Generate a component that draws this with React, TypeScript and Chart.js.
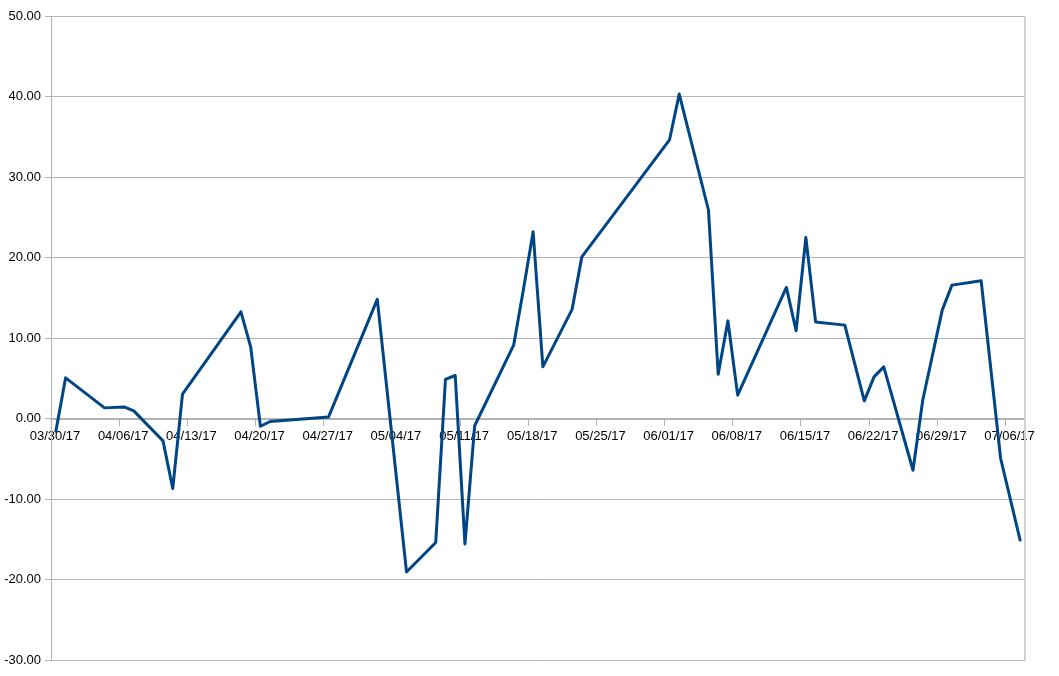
import React, { useRef, useEffect } from 'react';
import { Chart, registerables } from 'chart.js';

Chart.register(...registerables);

// trading days (from the x axis) and the plotted values
const dates = [
  '2017-03-30', '2017-03-31', '2017-04-04', '2017-04-06', '2017-04-07', '2017-04-10',
  '2017-04-11', '2017-04-12', '2017-04-18', '2017-04-19', '2017-04-20', '2017-04-21',
  '2017-04-27', '2017-05-02', '2017-05-05', '2017-05-08', '2017-05-09', '2017-05-10',
  '2017-05-11', '2017-05-12', '2017-05-16', '2017-05-17', '2017-05-18', '2017-05-19',
  '2017-05-22', '2017-05-23', '2017-06-01', '2017-06-02', '2017-06-05', '2017-06-06',
  '2017-06-07', '2017-06-08', '2017-06-13', '2017-06-14', '2017-06-15', '2017-06-16',
  '2017-06-19', '2017-06-21', '2017-06-22', '2017-06-23', '2017-06-26', '2017-06-27',
  '2017-06-29', '2017-06-30', '2017-07-03', '2017-07-05', '2017-07-07'
];
const values = [
  -1.6, 5.05, 1.32, 1.44, 0.95, -2.78,
  -8.7, 3.02, 13.25, 8.9, -0.96, -0.37,
  0.2, 14.8, -19.06, -15.4, 4.85, 5.34,
  -15.6, -0.9, 9.11, 16.0, 23.2, 6.42,
  13.55, 20.08, 34.6, 40.3, 25.9, 5.5,
  12.13, 2.9, 16.28, 10.9, 22.5, 12.0,
  11.6, 2.19, 5.17, 6.41, -6.43, 2.27,
  13.46, 16.57, 17.1, -4.97, -15.1
];

const START = '2017-03-30';
const END = '2017-07-08';
const DAY = 86400000;
const dayOf = (s: string) => (Date.parse(s) - Date.parse(START)) / DAY;

const fmtDate = (d: number) => {
  const t = new Date(Date.parse(START) + d * DAY);
  const mm = String(t.getUTCMonth() + 1).padStart(2, '0');
  const dd = String(t.getUTCDate()).padStart(2, '0');
  const yy = String(t.getUTCFullYear()).slice(2);
  return mm + '/' + dd + '/' + yy;
};

const font = { family: "'Liberation Sans', Arial, sans-serif", size: 13 };

const frame = {
  id: 'frame',
  afterDraw(chart: any) {
    const { ctx, chartArea } = chart;
    ctx.save();
    ctx.strokeStyle = '#d0d0d0';
    ctx.lineWidth = 2;
    ctx.beginPath();
    ctx.moveTo(chartArea.right, chartArea.top);
    ctx.lineTo(chartArea.right, chartArea.bottom);
    ctx.stroke();
    ctx.restore();
  }
};

export default function App() {
  const chartRef = useRef<HTMLCanvasElement>(null);
  useEffect(() => {
    if (!chartRef.current) return;
    const chart = new Chart(chartRef.current, {
      type: 'line',
      data: {
        datasets: [
          {
            data: dates.map((d, i) => ({ x: dayOf(d) + 0.5, y: values[i] })),
            borderColor: '#004586',
            borderWidth: 3,
            borderJoinStyle: 'round',
            borderCapStyle: 'round',
            pointRadius: 0,
            tension: 0,
            fill: false
          }
        ]
      },
      options: {
        animation: false,
        responsive: false,
        maintainAspectRatio: false,
        layout: { padding: { left: 0, top: 16, right: 34, bottom: 16 } },
        plugins: { legend: { display: false }, tooltip: { enabled: false } },
        scales: {
          x: {
            type: 'linear',
            position: { y: 0 },
            min: 0,
            max: dayOf(END),
            grid: { drawOnChartArea: false, tickLength: 6, color: '#b3b3b3' },
            border: { display: true, color: '#b3b3b3', width: 2 },
            ticks: {
              stepSize: 7,
              includeBounds: false,
              autoSkip: false,
              maxRotation: 0,
              padding: 4,
              labelOffset: 4,
              color: '#000',
              font,
              callback: (v: any) => fmtDate(Number(v))
            }
          },
          y: {
            min: -30,
            max: 50,
            afterFit: (s: any) => {
              s.width = 51;
            },
            grid: { color: '#b3b3b3', tickLength: 6 },
            border: { display: true, color: '#b3b3b3' },
            ticks: {
              stepSize: 10,
              padding: 4,
              color: '#000',
              font,
              callback: (v: any) => Number(v).toFixed(2)
            }
          }
        }
      },
      plugins: [frame]
    } as any);
    return () => {
      chart.destroy();
    };
  }, []);

  return (
    <div style={{ position: 'absolute', left: 0, top: 0, width: 1059, height: 676 }}>
      <canvas ref={chartRef} width={1059} height={676} />
    </div>
  );
}
